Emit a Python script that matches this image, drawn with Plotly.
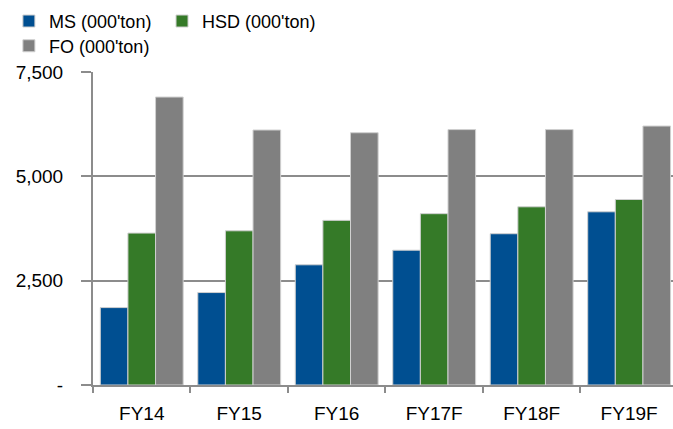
import plotly.graph_objects as go

categories = ["FY14", "FY15", "FY16", "FY17F", "FY18F", "FY19F"]
ms = [1855, 2215, 2880, 3230, 3625, 4150]
hsd = [3640, 3695, 3945, 4105, 4270, 4445]
fo = [6900, 6110, 6045, 6120, 6120, 6205]
series_names = ["MS (000'ton)", "HSD (000'ton)", "FO (000'ton)"]
colors = ["#004F91", "#357A28", "#808080"]
legend_ids = ["legend", "legend3", "legend2"]
y_tickvals = [0, 2500, 5000, 7500]
y_ticktext = ["-", "2,500", "5,000", "7,500"]
grid_vals = [2500, 5000]

FONT = "Liberation Sans, Arial, sans-serif"
AXIS = "#8c8c8c"

fig = go.Figure()
for name, vals, c, lg in zip(series_names, [ms, hsd, fo], colors, legend_ids):
    fig.add_trace(go.Bar(
        x=categories, y=vals, name=name, legend=lg,
        marker=dict(color=c, line=dict(color="#d0d0d0", width=1)),
    ))

legend_common = dict(
    orientation="h", xanchor="left", yanchor="top",
    font=dict(family=FONT, size=18, color="black"),
    itemwidth=30, bgcolor="rgba(0,0,0,0)",
)

fig.update_layout(
    width=673, height=429,
    margin=dict(l=93, r=0, t=72, b=44),
    paper_bgcolor="white", plot_bgcolor="white",
    barmode="group", bargap=0.15, bargroupgap=0,
    font=dict(family=FONT, size=18, color="black"),
    showlegend=True,
    legend=dict(x=-0.145, y=1.221, **legend_common),
    legend3=dict(x=0.119, y=1.221, **legend_common),
    legend2=dict(x=-0.145, y=1.142, **legend_common),
    xaxis=dict(
        range=[-0.5, 5.45],
        showline=True, linecolor=AXIS, linewidth=2,
        ticks="outside", tickson="boundaries", ticklen=6, tickcolor=AXIS, tickwidth=2,
        showgrid=False, ticklabelstandoff=10,
        tickfont=dict(family=FONT, size=19, color="black"),
    ),
    yaxis=dict(
        range=[0, 7500],
        showline=True, linecolor=AXIS, linewidth=2,
        ticks="outside", ticklen=10, tickcolor=AXIS, tickwidth=2,
        tickvals=y_tickvals, ticktext=y_ticktext,
        showgrid=False, zeroline=False,
        ticklabelstandoff=14,
        tickfont=dict(family=FONT, size=19, color="black"),
        minor=dict(tickvals=grid_vals, showgrid=True, gridcolor=AXIS, gridwidth=2, ticks=""),
    ),
)

fig.write_html("out.html")
